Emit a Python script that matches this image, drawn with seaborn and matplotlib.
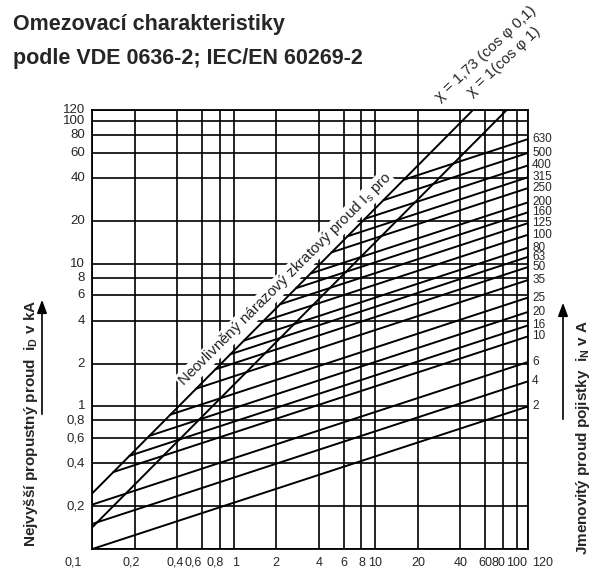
import numpy as np
import pandas as pd
import seaborn as sns
import matplotlib.pyplot as plt
from matplotlib.patches import FancyArrowPatch
from matplotlib.ticker import NullLocator

# fuse ratings (A) and let-through current read at 120 kA prospective (kA)
fuse_ratings = ['2', '4', '6', '10', '16', '20', '25', '35', '50', '63', '80',
                '100', '125', '160', '200', '250', '315', '400', '500', '630']
cutoff_at_120 = [1.0, 1.5, 2.05, 3.1, 3.7, 4.6, 5.8, 7.7, 9.5, 11.2, 13.0,
                 16.0, 19.3, 23.0, 27.0, 34.0, 40.5, 49.0, 60.0, 75.0]
fuse_slope = 0.325

# peak factors of the unlimited short-circuit current
chi_values = [1.73, 1.0]
chi_labels = ['χ = 1,73 (cos φ 0,1)', 'χ = 1(cos φ 1)']

grid_ticks = [0.1, 0.2, 0.4, 0.6, 0.8, 1, 2, 4, 6, 8, 10, 20, 40, 60, 80, 100, 120]
tick_labels = ['0,1', '0,2', '0,4', '0,6', '0,8', '1', '2', '4', '6', '8', '10',
               '20', '40', '60', '80', '100', '120']
# horizontal nudges (px) of crowded x tick labels
x_label_shift = [-19, -3, -2, -9, -5, 2, 0, 0, 0, 0, 0, 0, 0, 0, -5, 0, 15]

x_min, x_max = 0.1, 120

# build the line table
rows = []
for chi in chi_values:
    k = chi * np.sqrt(2)
    x_top = min(x_max, x_max / k)
    rows.append(('chi %.2f' % chi, x_min, k * x_min))
    rows.append(('chi %.2f' % chi, x_top, k * x_top))
k1 = chi_values[0] * np.sqrt(2)
for name, y_end in zip(fuse_ratings, cutoff_at_120):
    xs = (y_end / (k1 * x_max ** fuse_slope)) ** (1 / (1 - fuse_slope))
    xs = max(x_min, xs)
    ys = y_end * (xs / x_max) ** fuse_slope
    rows.append(('fuse ' + name, xs, ys))
    rows.append(('fuse ' + name, x_max, y_end))
df = pd.DataFrame(rows, columns=['curve', 'x', 'y'])

sns.set_style('white')
plt.rcParams['font.family'] = ['Liberation Sans', 'DejaVu Sans']
plt.rcParams['mathtext.fontset'] = 'custom'
plt.rcParams['mathtext.rm'] = 'Liberation Sans'
plt.rcParams['mathtext.bf'] = 'Liberation Sans:bold'

fig = plt.figure(figsize=(5.93, 5.76), dpi=100)
ax = fig.add_axes([92 / 593, 27 / 576, 436 / 593, 439 / 576])
ax.set_xscale('log')
ax.set_yscale('log')

sns.lineplot(data=df, x='x', y='y', units='curve', estimator=None, sort=False,
             color='black', linewidth=1.4, legend=False, ax=ax)

ax.set_xlim(x_min, x_max)
ax.set_ylim(x_min, x_max)
ax.set_xticks(grid_ticks)
ax.set_yticks(grid_ticks)
ax.xaxis.set_minor_locator(NullLocator())
ax.yaxis.set_minor_locator(NullLocator())
ax.set_xticklabels([])
ax.set_yticklabels([])
ax.tick_params(length=0)
ax.grid(True, which='major', color='black', linewidth=1.2)
ax.set_xlabel('')
ax.set_ylabel('')
for s in ax.spines.values():
    s.set_color('black')
    s.set_linewidth(1.3)

# tick labels
for v, lab, dx in zip(grid_ticks, tick_labels, x_label_shift):
    ax.annotate(lab, xy=(v, 0), xycoords=('data', 'axes fraction'),
                xytext=(dx * 0.72, -10), textcoords='offset points',
                ha='center', va='center', fontsize=9)
for v, lab in zip(grid_ticks[1:], tick_labels[1:]):
    ax.annotate(lab, xy=(0, v), xycoords=('axes fraction', 'data'),
                xytext=(-5, 0), textcoords='offset points',
                ha='right', va='center', fontsize=9.5)

# fuse rating labels on the right
for name, y_end in zip(fuse_ratings, cutoff_at_120):
    ax.annotate(name, xy=(1, y_end), xycoords=('axes fraction', 'data'),
                xytext=(3, 0), textcoords='offset points',
                ha='left', va='center', fontsize=8.5)

# text along the unlimited peak current line
x_txt = 2.71
ax.annotate('Neovlivněný nárazový zkratový proud I$_\\mathrm{s}$ pro',
            xy=(x_txt, k1 * x_txt), xytext=(-7, 7), textcoords='offset points',
            ha='center', va='center', rotation=45, rotation_mode='anchor',
            fontsize=11, zorder=5,
            bbox=dict(boxstyle='square,pad=0.05', fc='white', ec='none'))

# chi labels above the top edge
for lab, xpos, dy in zip(chi_labels, [29.5, 50.0], [4, 8]):
    ax.annotate(lab, xy=(xpos, x_max), xytext=(0, dy), textcoords='offset points',
                ha='left', va='bottom', rotation=43, rotation_mode='anchor',
                fontsize=11, annotation_clip=False)

# axis titles with arrows
fig.text(31 / 593, 1 - 423 / 576, 'Nejvyšší propustný proud  i$_\\mathbf{D}$ v kA',
         rotation=90, ha='center', va='center', fontsize=11, fontweight='bold')
fig.text(583 / 593, 1 - 437 / 576, 'Jmenovitý proud pojistky  i$_\\mathbf{N}$ v A',
         rotation=90, ha='center', va='center', fontsize=11, fontweight='bold')
for xa, y0, y1 in [(42, 417, 297), (563, 422, 300)]:
    fig.patches.append(FancyArrowPatch(
        (xa / 593, 1 - y0 / 576), (xa / 593, 1 - y1 / 576),
        transform=fig.transFigure, arrowstyle='-|>,head_length=8,head_width=3',
        color='black', linewidth=1.2, mutation_scale=1))

# title
fig.text(13 / 593, 1 - 30 / 576, 'Omezovací charakteristiky',
         ha='left', va='baseline', fontsize=15.5, fontweight='bold')
fig.text(13 / 593, 1 - 64 / 576, 'podle VDE 0636-2; IEC/EN 60269-2',
         ha='left', va='baseline', fontsize=15.5, fontweight='bold')

fig.savefig('out.png', dpi=100, facecolor='white')
